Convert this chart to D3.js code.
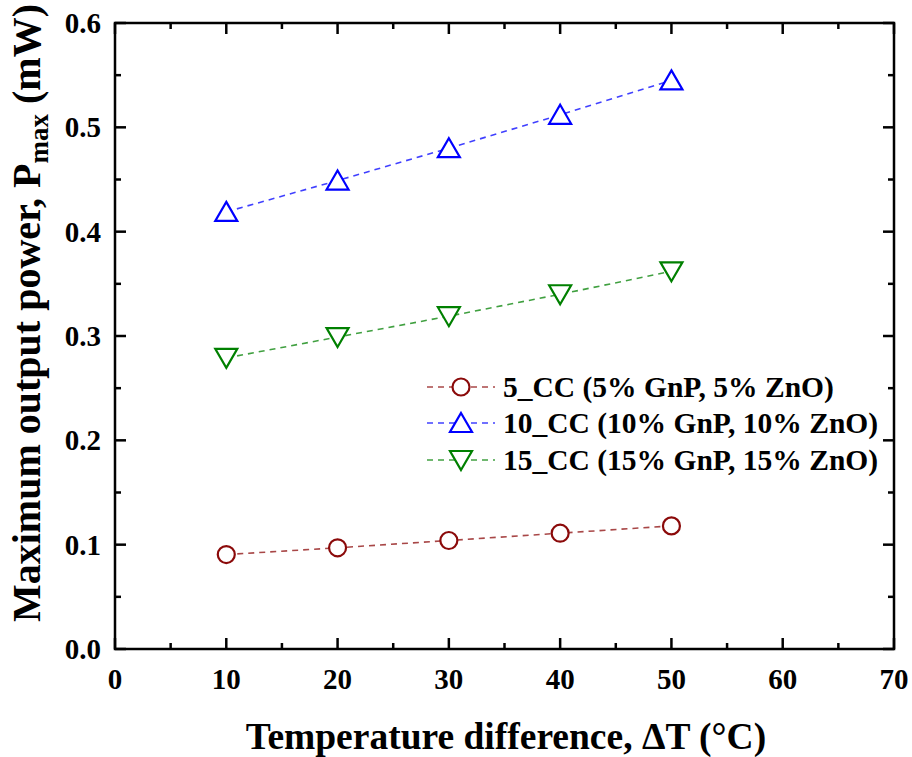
<!DOCTYPE html>
<meta charset="utf-8">
<style>
body { margin: 0; background: #fff; }
text { font-family: "Liberation Serif", "Times New Roman", serif; font-weight: bold; fill: #000; }
</style>
<svg width="912" height="757"></svg>
<script src="https://d3js.org/d3.v7.min.js"></script>
<script>
// data
var deltaT = [10, 20, 30, 40, 50];
var cc5  = [0.0905, 0.097, 0.104, 0.111, 0.118];
var cc10 = [0.419, 0.449, 0.480, 0.512, 0.545];
var cc15 = [0.279, 0.299, 0.319, 0.340, 0.362];
var xTicks = [0, 10, 20, 30, 40, 50, 60, 70];
var yTicks = [0.0, 0.1, 0.2, 0.3, 0.4, 0.5, 0.6];
var seriesNames = ["5_CC (5% GnP, 5% ZnO)", "10_CC (10% GnP, 10% ZnO)", "15_CC (15% GnP, 15% ZnO)"];

var series = [
  {name: seriesNames[0], values: cc5,  color: "#8b0a0a", marker: "circle"},
  {name: seriesNames[1], values: cc10, color: "#0000ff", marker: "up"},
  {name: seriesNames[2], values: cc15, color: "#008000", marker: "down"}
];

var svg = d3.select("svg"),
    pLeft = 115, pRight = 894, pTop = 23, pBottom = 649;

var x = d3.scaleLinear().domain([0, 70]).range([pLeft, pRight]);
var y = d3.scaleLinear().domain([0, 0.6]).range([pBottom, pTop]);

// ticks (inward, mirrored on all four sides)
var xMinor = d3.range(5, 70, 10), yMinor = d3.range(0.05, 0.6, 0.1);
var ax = svg.append("g").attr("stroke", "#000").attr("stroke-width", 2.5);
function tickLines(vals, len, horiz) {
  vals.forEach(function(v) {
    if (horiz) {
      ax.append("line").attr("x1", x(v)).attr("x2", x(v)).attr("y1", pBottom).attr("y2", pBottom - len);
      ax.append("line").attr("x1", x(v)).attr("x2", x(v)).attr("y1", pTop).attr("y2", pTop + len);
    } else {
      ax.append("line").attr("y1", y(v)).attr("y2", y(v)).attr("x1", pLeft).attr("x2", pLeft + len);
      ax.append("line").attr("y1", y(v)).attr("y2", y(v)).attr("x1", pRight).attr("x2", pRight - len);
    }
  });
}
tickLines(xTicks, 11, true);
tickLines(xMinor, 6, true);
tickLines(yTicks, 11, false);
tickLines(yMinor, 6, false);
ax.append("rect").attr("x", pLeft).attr("y", pTop).attr("width", pRight - pLeft).attr("height", pBottom - pTop)
  .attr("fill", "none");

// tick labels
svg.selectAll(".xl").data(xTicks).enter().append("text")
  .attr("x", function(d) { return x(d); })
  .attr("y", 689)
  .attr("text-anchor", "middle")
  .attr("font-size", 29)
  .text(function(d) { return d; });
svg.selectAll(".yl").data(yTicks).enter().append("text")
  .attr("x", 101)
  .attr("y", function(d) { return y(d) + 10; })
  .attr("text-anchor", "end")
  .attr("font-size", 29)
  .text(function(d) { return d.toFixed(1); });

// axis titles
svg.append("text")
  .attr("x", 506)
  .attr("y", 749)
  .attr("text-anchor", "middle")
  .attr("font-size", 37.5)
  .text("Temperature difference, \u0394T (\u00B0C)");
var yt = svg.append("text")
  .attr("transform", "translate(40,313) rotate(-90)")
  .attr("text-anchor", "middle")
  .attr("font-size", 40);
yt.append("tspan").text("Maximum output power, P");
yt.append("tspan").attr("font-size", 27).attr("dy", 8).text("max");
yt.append("tspan").attr("dy", -8).text(" (mW)");

// markers
function markerPath(type) {
  if (type === "up") return "M0,-10L11,9L-11,9Z";
  if (type === "down") return "M0,10L11,-9L-11,-9Z";
  return d3.symbol().type(d3.symbolCircle).size(Math.PI * 8.5 * 8.5)();
}

var line = d3.line()
  .x(function(d, i) { return x(deltaT[i]); })
  .y(function(d) { return y(d); });

series.forEach(function(s) {
  svg.append("path")
    .attr("d", line(s.values))
    .attr("fill", "none")
    .attr("stroke", s.color)
    .attr("stroke-opacity", 0.75)
    .attr("stroke-width", 1.6)
    .attr("stroke-dasharray", "6,5");
  svg.selectAll(null).data(s.values).enter().append("path")
    .attr("d", markerPath(s.marker))
    .attr("transform", function(d, i) { return "translate(" + x(deltaT[i]) + "," + y(d) + ")"; })
    .attr("fill", "#fff")
    .attr("stroke", s.color)
    .attr("stroke-width", 2.2);
});

// legend
var legY = [387, 423, 460];
series.forEach(function(s, i) {
  var g = svg.append("g").attr("transform", "translate(0," + legY[i] + ")");
  g.append("line").attr("x1", 427).attr("x2", 495).attr("y1", 0).attr("y2", 0)
    .attr("stroke", s.color).attr("stroke-opacity", 0.75).attr("stroke-width", 1.6)
    .attr("stroke-dasharray", "6,5");
  g.append("path").attr("d", markerPath(s.marker))
    .attr("transform", "translate(461,0)")
    .attr("fill", "#fff").attr("stroke", s.color).attr("stroke-width", 2.2);
  g.append("text").attr("x", 503).attr("y", 10).attr("font-size", 29.5).text(s.name);
});
</script>
